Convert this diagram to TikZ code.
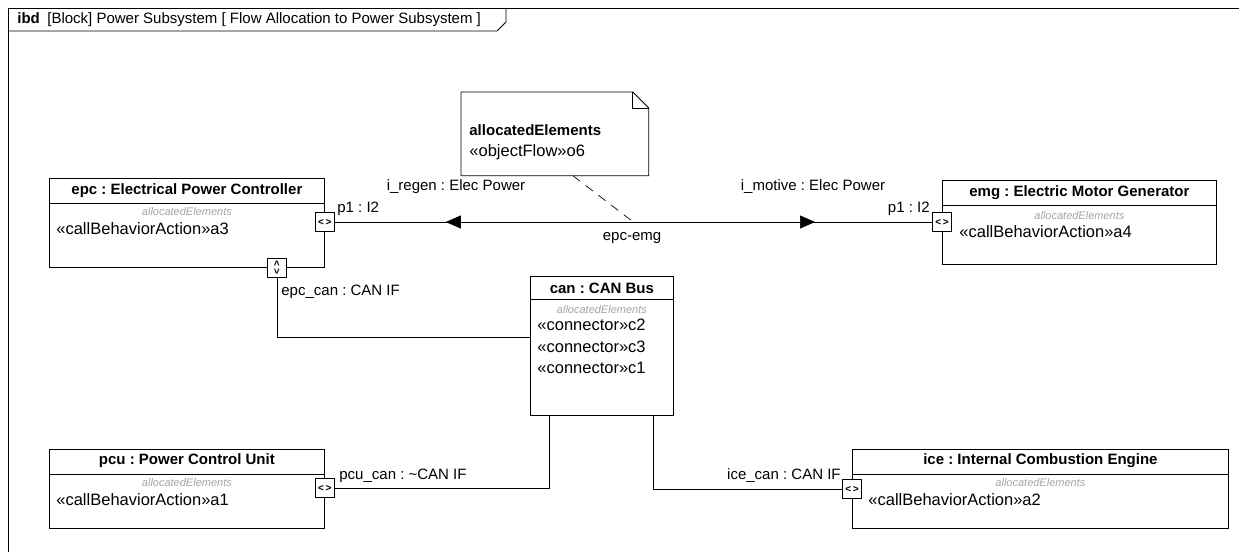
\documentclass[tikz,border=0pt]{standalone}
\usepackage{fontspec}
\setmainfont{Liberation Sans}
\frenchspacing
\usetikzlibrary{calc,arrows.meta,positioning,decorations.markings}

\definecolor{allocgray}{RGB}{165,165,165}

\tikzset{
  txt/.style = {inner sep=0pt, font=\fontsize{15}{18}\selectfont},
  body/.style = {inner sep=0pt, font=\fontsize{16.5}{19}\selectfont},
  ttl/.style = {inner sep=0pt, font=\fontsize{15}{18}\selectfont\bfseries},
  alloc/.style = {inner sep=0pt, text=allocgray, font=\fontsize{11}{13}\selectfont\itshape},
  block/.style = {draw, fill=white, anchor=north west, inner sep=0pt},
  hport/.style = {draw, fill=white, minimum size=19pt, inner sep=0pt,
    font=\fontsize{10}{10}\selectfont\bfseries},
  vport/.style = {hport, rotate=90},
  flow/.style = {postaction={decorate}, decoration={markings,
    mark=at position 0.186 with {\arrowreversed{Triangle[length=15pt,width=13pt]}},
    mark=at position 0.804 with {\arrow{Triangle[length=15pt,width=13pt]}}}}
}

\begin{document}
\begin{tikzpicture}[x=1pt, y=-1pt, line width=0.8pt]
  \useasboundingbox (0,0) rectangle (1239,552);
  % frame
  \path[draw] (8,552) -- (8,8) -- (1239,8);
  \path[draw] (8,31) -- (497,31) -- (506,22) -- (506,8);
  \node[txt, anchor=west] (frametitle) at (17,20) {\textbf{ibd}\enspace[Block] Power Subsystem [ Flow Allocation to Power Subsystem ]};

  % epc
  \node[block, minimum width=275pt, minimum height=89pt] (epc) at (49,178) {};
  \path[draw] ($(epc.north west)+(0,25)$) -- ($(epc.north east)+(0,25)$);
  \node[ttl] (epc-t) at ($(epc.north)+(0,13)$) {epc : Electrical Power Controller};
  \node[alloc] (epc-a) at ($(epc.north)+(0,34)$) {allocatedElements};
  \node[body, anchor=west] (epc-b) at ($(epc.north west)+(7,51)$) {«callBehaviorAction»a3};
  \node[hport] (epc-p1) at ($(epc.north east)+(0,44)$) {<\,>};
  \node[vport] (epc-p2) at ($(epc.south west)+(228,0)$) {<\,>};

  % emg
  \node[block, minimum width=274pt, minimum height=84pt] (emg) at (942,180) {};
  \path[draw] ($(emg.north west)+(0,25)$) -- ($(emg.north east)+(0,25)$);
  \node[ttl] (emg-t) at ($(emg.north)+(0,13)$) {emg : Electric Motor Generator};
  \node[alloc] (emg-a) at ($(emg.north)+(0,36)$) {allocatedElements};
  \node[body, anchor=west] (emg-b) at ($(emg.north west)+(17,52)$) {«callBehaviorAction»a4};
  \node[hport] (emg-p1) at ($(emg.north west)+(0,42)$) {<\,>};

  % can
  \node[block, minimum width=143pt, minimum height=139pt] (can) at (530,276) {};
  \path[draw] ($(can.north west)+(0,23)$) -- ($(can.north east)+(0,23)$);
  \node[ttl] (can-t) at ($(can.north)+(0,12)$) {can : CAN Bus};
  \node[alloc] (can-a) at ($(can.north)+(0,34)$) {allocatedElements};
  \node[body, anchor=west] (can-c2) at ($(can.north west)+(7,49)$) {«connector»c2};
  \node[body, anchor=west] (can-c3) at ($(can.north west)+(7,71)$) {«connector»c3};
  \node[body, anchor=west] (can-c1) at ($(can.north west)+(7,92)$) {«connector»c1};

  % pcu
  \node[block, minimum width=275pt, minimum height=79pt] (pcu) at (49,449) {};
  \path[draw] ($(pcu.north west)+(0,25)$) -- ($(pcu.north east)+(0,25)$);
  \node[ttl] (pcu-t) at ($(pcu.north)+(0,12)$) {pcu : Power Control Unit};
  \node[alloc] (pcu-a) at ($(pcu.north)+(0,34)$) {allocatedElements};
  \node[body, anchor=west] (pcu-b) at ($(pcu.north west)+(7,51)$) {«callBehaviorAction»a1};
  \node[hport] (pcu-p) at ($(pcu.north east)+(0,39)$) {<\,>};

  % ice
  \node[block, minimum width=376pt, minimum height=79pt] (ice) at (852,449) {};
  \path[draw] ($(ice.north west)+(0,25)$) -- ($(ice.north east)+(0,25)$);
  \node[ttl] (ice-t) at ($(ice.north)+(0,12)$) {ice : Internal Combustion Engine};
  \node[alloc] (ice-a) at ($(ice.north)+(0,34)$) {allocatedElements};
  \node[body, anchor=west] (ice-b) at ($(ice.north west)+(16,51)$) {«callBehaviorAction»a2};
  \node[hport] (ice-p) at ($(ice.north west)+(0,40)$) {<\,>};

  % connectors
  \path[draw, line width=0.7pt, flow] (epc-p1) -- (emg-p1);
  \path[draw, line width=0.7pt] (epc-p2) |- ($(can.north west)+(0,61)$);
  \path[draw, line width=0.7pt] (pcu-p) -| ($(can.south west)+(19,0)$);
  \path[draw, line width=0.7pt] ($(can.south east)+(-20,0)$) |- (ice-p);

  % note
  \node[minimum width=187pt, minimum height=83pt, anchor=north west, inner sep=0pt] (note) at (461,92) {};
  \path[draw, fill=white] (note.south west) -- (note.north west) -- ($(note.north east)+(-16,0)$)
    -- ($(note.north east)+(0,16)$) -- (note.south east) -- cycle;
  \path[draw] ($(note.north east)+(-16,0)$) -- ++(0,16) -- ++(16,0);
  \node[ttl, anchor=west] (note-h) at ($(note.north west)+(8,38)$) {allocatedElements};
  \node[body, anchor=west] (note-b) at ($(note.north west)+(8,60)$) {«objectFlow»o6};
  \coordinate (flowpt) at ($(epc-p1)!0.50!(emg-p1)$);
  \path[draw, line width=0.7pt, dash pattern=on 9pt off 7pt] ($(note.south west)+(112,0)$) -- (flowpt);

  % labels
  \node[txt] (l-regen) at (456,187) {i\_regen : Elec Power};
  \node[txt, anchor=west] (l-p1a) at (337,209) {p1 : I2};
  \node[txt] (l-motive) at (813,187) {i\_motive : Elec Power};
  \node[txt, anchor=east] (l-p1b) at (930,209) {p1 : I2};
  \node[txt] (l-flow) at (632,238) {epc-emg};
  \node[txt, anchor=west] (l-epccan) at (281,292) {epc\_can : CAN IF};
  \node[txt, anchor=west] (l-pcucan) at (339,476) {pcu\_can : \textasciitilde CAN IF};
  \node[txt, anchor=east] (l-icecan) at (841,476) {ice\_can : CAN IF};
\end{tikzpicture}
\end{document}
